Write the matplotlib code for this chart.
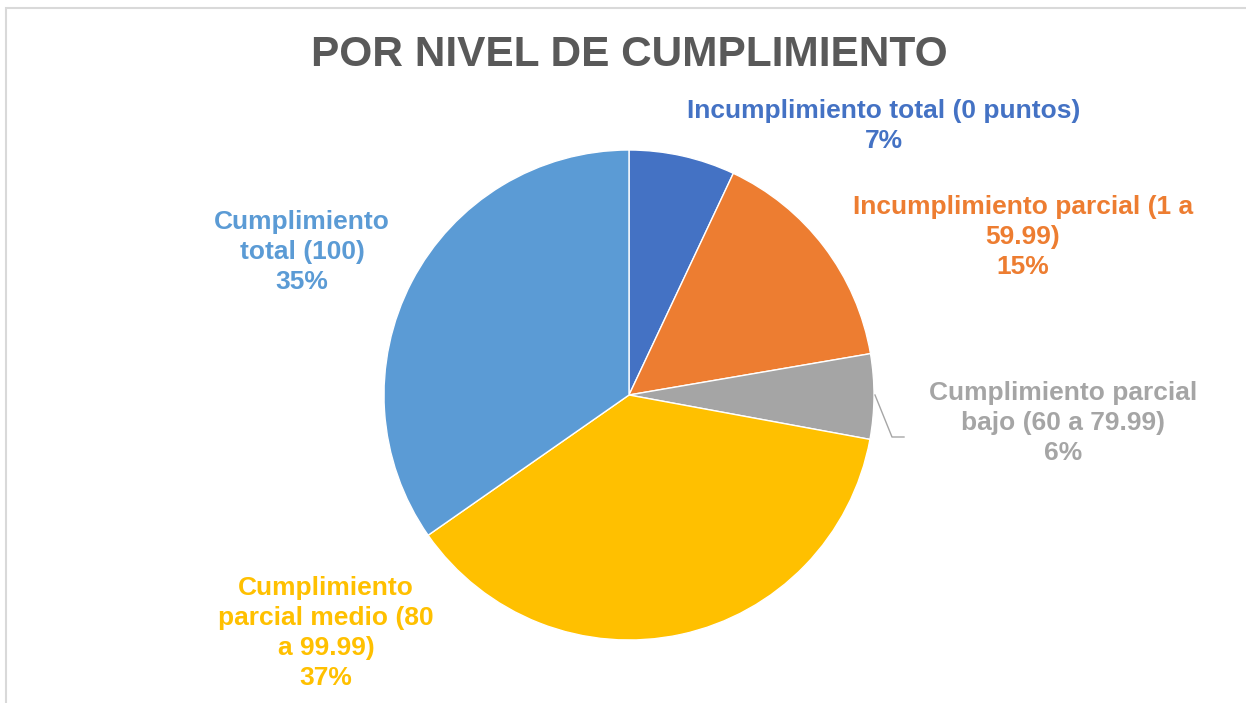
import matplotlib.pyplot as plt
from matplotlib.patches import Rectangle

# Data
categories = [
    "Incumplimiento total (0 puntos)",
    "Incumplimiento parcial (1 a\n59.99)",
    "Cumplimiento parcial\nbajo (60 a 79.99)",
    "Cumplimiento\nparcial medio (80\na 99.99)",
    "Cumplimiento\ntotal (100)",
]
values = [7.0, 15.3, 5.6, 37.4, 34.7]
colors = ["#4472C4", "#ED7D31", "#A5A5A5", "#FFC000", "#5B9BD5"]

plt.rcParams["font.family"] = ["Liberation Sans", "DejaVu Sans"]

W, H = 1246, 703
fig = plt.figure(figsize=(W / 100, H / 100), dpi=100)

# pie centre and radius in pixels
cx, cy, r = 629, 395, 245
ax = fig.add_axes([(cx - r) / W, (H - cy - r) / H, 2 * r / W, 2 * r / H])
ax.pie(values, colors=colors, startangle=90, counterclock=False, radius=1,
       wedgeprops=dict(edgecolor="white", linewidth=1))
ax.set_xlim(-1, 1)
ax.set_ylim(-1, 1)
ax.set_aspect("equal")
ax.axis("off")


def px(x, y):
    return (x - cx) / r, (cy - y) / r


# label positions (pixel centres)
label_pos = [(884, 126), (1023, 237), (1063, 423), (326, 633), (302, 252)]
total = sum(values)
for cat, v, c, (lx, ly) in zip(categories, values, colors, label_pos):
    tx, ty = px(lx, ly)
    ax.text(tx, ty, f"{cat}\n{round(v / total * 100)}%", color=c,
            fontsize=19, fontweight="bold", ha="center", va="center",
            linespacing=1.33, clip_on=False)

# leader line for the small grey slice
lx = [px(875, 395)[0], px(892, 437)[0], px(904, 437)[0]]
ly = [px(875, 395)[1], px(892, 437)[1], px(904, 437)[1]]
ax.plot(lx, ly, color="#A6A6A6", linewidth=1, clip_on=False)

fig.text(629 / W, 1 - 55 / H, "POR NIVEL DE CUMPLIMIENTO", color="#595959",
         fontsize=30.5, fontweight="bold", ha="center", va="center")

# chart frame
fig.patches.append(Rectangle((6 / W, -0.05), 1.1, 1 - 8 / H + 0.05,
                             transform=fig.transFigure, fill=False,
                             edgecolor="#D9D9D9", linewidth=1.5))

fig.savefig("out.png", dpi=100)
